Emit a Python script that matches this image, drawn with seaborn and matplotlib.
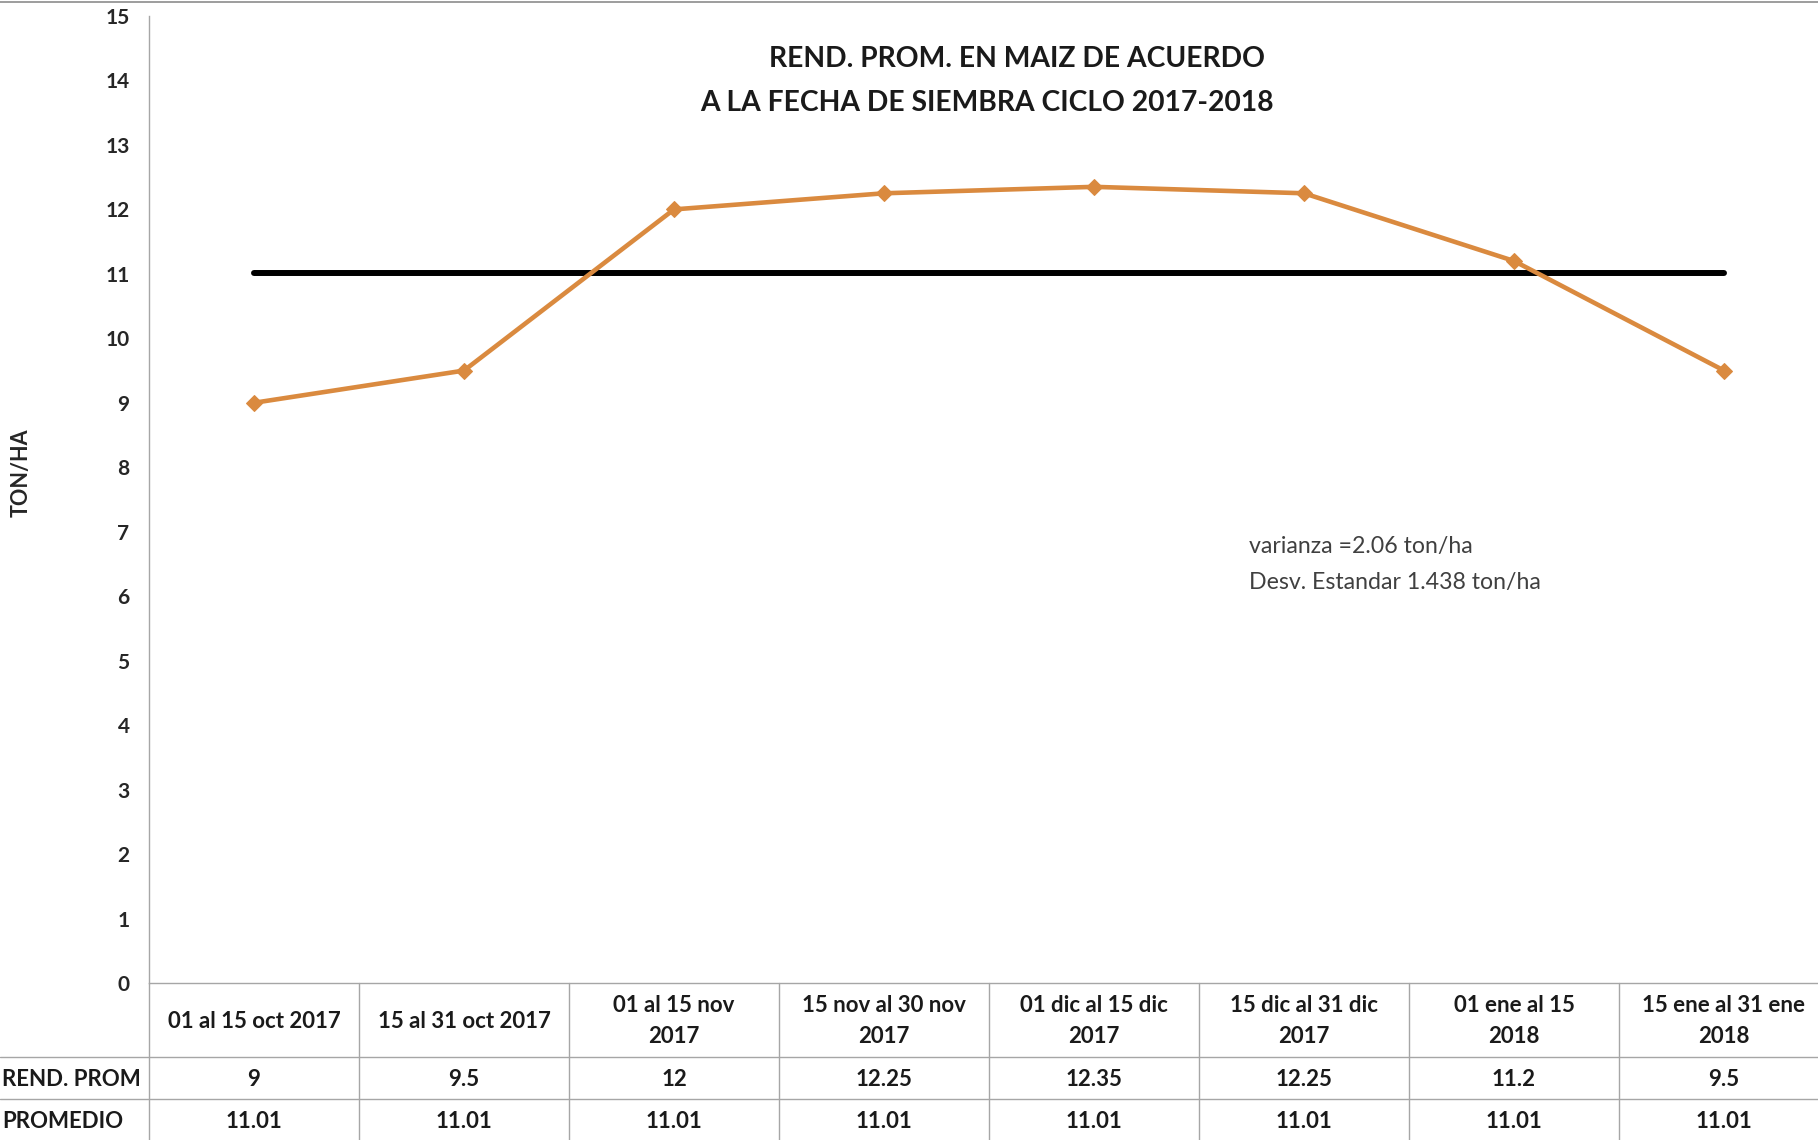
import matplotlib
matplotlib.use("Agg")
import matplotlib.pyplot as plt
import matplotlib.transforms as mtransforms
from matplotlib.lines import Line2D
import seaborn as sns
import pandas as pd

# Data
periodos = ["01 al 15 oct 2017", "15 al 31 oct 2017", "01 al 15 nov\n2017",
            "15 nov al 30 nov\n2017", "01 dic al 15 dic\n2017",
            "15 dic al 31 dic\n2017", "01 ene al 15\n2018", "15 ene al 31 ene\n2018"]
rend_prom = [9, 9.5, 12, 12.25, 12.35, 12.25, 11.2, 9.5]
promedio = [11.01] * 8
rend_labels = ["9", "9.5", "12", "12.25", "12.35", "12.25", "11.2", "9.5"]
prom_labels = ["11.01"] * 8
y_ticks = list(range(0, 16))

sns.set_style("white")
plt.rcParams['font.family'] = ['Lato', 'DejaVu Sans']

W, H = 1818, 1140
fig = plt.figure(figsize=(W / 100, H / 100), dpi=100)

# axes placement in pixels (left, top, right, bottom)
ax_l, ax_t, ax_r, ax_b = 149, 16, 1829, 983
ax = fig.add_axes([ax_l / W, 1 - ax_b / H, (ax_r - ax_l) / W, (ax_b - ax_t) / H])

df = pd.DataFrame({"x": range(len(periodos)), "rend": rend_prom, "prom": promedio})
orange = "#DA8A3F"
sns.lineplot(data=df, x="x", y="prom", ax=ax, color="black", linewidth=4.3)
sns.lineplot(data=df, x="x", y="rend", ax=ax, color=orange, linewidth=3.3,
             marker="D", markersize=8, markeredgecolor=orange)

ax.set_xlim(-0.5, len(periodos) - 0.5)
ax.set_ylim(0, 15)
ax.set_yticks(y_ticks)
ax.set_yticklabels([str(t) for t in y_ticks], fontsize=15, fontweight="bold")
ax.tick_params(axis="y", length=0, pad=14)
ax.set_xticks([])
ax.set_xlabel("")
ax.set_ylabel("")
for s in ["top", "right"]:
    ax.spines[s].set_visible(False)
for s in ["left", "bottom"]:
    ax.spines[s].set_color("#A6A6A6")
    ax.spines[s].set_linewidth(1)

fig.text(21 / W, 1 - 473 / H, "TON/HA", rotation=90, ha="center", va="center",
         fontsize=15.5, fontweight="bold")

# title, two lines (second line sits slightly left in the original)
fig.text(1017 / W, 1 - 59 / H, "REND. PROM. EN MAIZ DE ACUERDO",
         ha="center", va="center", fontsize=20.3, fontweight="bold", color="#1a1a1a")
fig.text(987 / W, 1 - 103 / H, "A LA FECHA DE SIEMBRA CICLO 2017-2018",
         ha="center", va="center", fontsize=20.3, fontweight="bold", color="#1a1a1a")

fig.text(1249 / W, 1 - 547 / H, "varianza =2.06 ton/ha", ha="left", va="center",
         fontsize=16.7, color="#404040")
fig.text(1249 / W, 1 - 582 / H, "Desv. Estandar 1.438 ton/ha", ha="left", va="center",
         fontsize=16.7, color="#404040")

# data table under the chart
trans = mtransforms.blended_transform_factory(ax.transData, fig.transFigure)
grid_c = "#A6A6A6"


def fy(px):
    return 1 - px / H


for i in range(len(periodos) + 1):
    ax.add_line(Line2D([i - 0.5, i - 0.5], [fy(983), fy(1145)], transform=trans,
                       color=grid_c, linewidth=1, clip_on=False))
for ypx in [1057, 1099]:
    fig.add_artist(Line2D([0, 1], [fy(ypx), fy(ypx)], color=grid_c, linewidth=1))
fig.add_artist(Line2D([0, 1], [fy(1.5), fy(1.5)], color="#8C8C8C", linewidth=1.2))

tfs = 16
for i, lab in enumerate(periodos):
    ax.text(i, fy(1021), lab, transform=trans, ha="center", va="center",
            fontsize=tfs, fontweight="bold", linespacing=1.55, color="#1a1a1a")
    ax.text(i, fy(1080), rend_labels[i], transform=trans, ha="center", va="center",
            fontsize=tfs, fontweight="bold", color="#1a1a1a")
    ax.text(i, fy(1122), prom_labels[i], transform=trans, ha="center", va="center",
            fontsize=tfs, fontweight="bold", color="#1a1a1a")

fig.text(2 / W, fy(1080), "REND. PROM", ha="left", va="center", fontsize=tfs,
         fontweight="bold", color="#1a1a1a")
fig.text(2 / W, fy(1122), "PROMEDIO", ha="left", va="center", fontsize=tfs,
         fontweight="bold", color="#1a1a1a")

fig.savefig("out.png", dpi=100)
